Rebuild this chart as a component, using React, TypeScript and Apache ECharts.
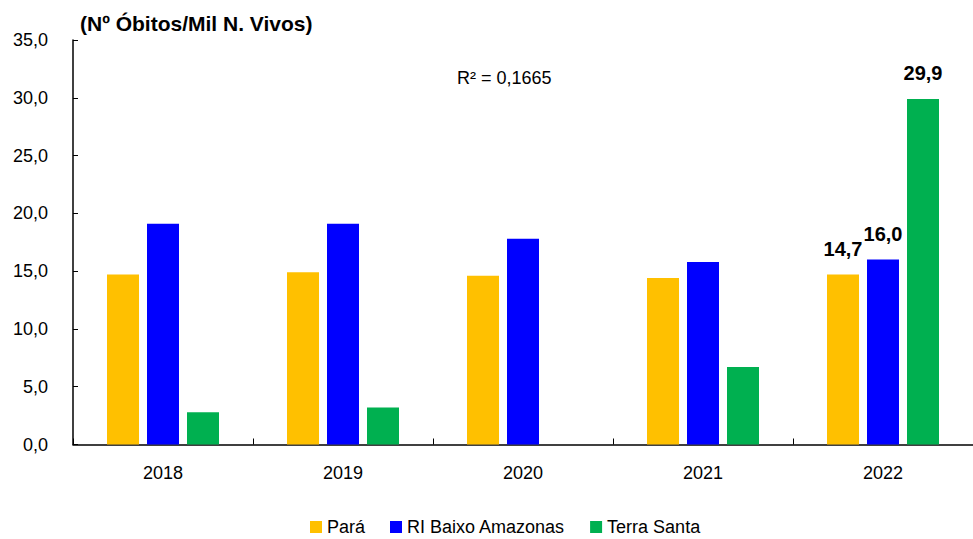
import React, { useEffect, useRef } from "react";
import * as echarts from "echarts";

const categories = ["2018", "2019", "2020", "2021", "2022"];
const para = [14.7, 14.9, 14.6, 14.4, 14.7];
const riBaixoAmazonas = [19.1, 19.1, 17.8, 15.8, 16.0];
const terraSanta = [2.8, 3.2, 0, 6.7, 29.9];
const labeledIndex = 4;
const yTicks = [0, 5, 10, 15, 20, 25, 30, 35];

const FONT = "'Liberation Sans', Arial, sans-serif";
const fmt = (v: number) => v.toFixed(1).replace(".", ",");

function withLabels(values: number[]) {
  return values.map((v, i) =>
    i === labeledIndex
      ? {
          value: v,
          label: {
            show: true,
            position: "top",
            distance: 16,
            fontFamily: FONT,
            fontWeight: "bold",
            fontSize: 20,
            color: "#000",
            formatter: (p: any) => fmt(p.value),
          },
        }
      : v
  );
}

export default function App() {
  const ref = useRef<HTMLDivElement>(null);
  useEffect(() => {
    if (!ref.current) return;
    const chart = echarts.init(ref.current, undefined, { renderer: "svg" });
    chart.setOption({
      animation: false,
      textStyle: { fontFamily: FONT },
      grid: { left: 73, right: 0, top: 40, bottom: 94.5, containLabel: false },
      legend: {
        top: 513,
        left: 305,
        padding: 5,
        itemWidth: 12,
        itemHeight: 12,
        itemGap: 25,
        icon: "rect",
        textStyle: { fontFamily: FONT, fontSize: 18, color: "#000" },
        data: ["Pará", "RI Baixo Amazonas", "Terra Santa"],
      },
      graphic: [
        {
          type: "text",
          left: 80,
          top: 13,
          style: {
            text: "(Nº Óbitos/Mil N. Vivos)",
            fontFamily: FONT,
            fontWeight: "bold",
            fontSize: 21,
            fill: "#000",
          },
        },
        {
          type: "text",
          left: 457,
          top: 69,
          style: {
            text: "R² = 0,1665",
            fontFamily: FONT,
            fontSize: 18,
            fill: "#000",
          },
        },
      ],
      xAxis: {
        type: "category",
        data: categories,
        boundaryGap: true,
        axisLine: { lineStyle: { color: "#000", width: 1.5 } },
        axisTick: { show: true, inside: true, length: 6, alignWithLabel: false, lineStyle: { color: "#000" } },
        axisLabel: { fontFamily: FONT, fontSize: 18, color: "#000", margin: 19 },
      },
      yAxis: {
        type: "value",
        min: yTicks[0],
        max: yTicks[yTicks.length - 1],
        interval: 5,
        axisLine: { show: true, lineStyle: { color: "#000", width: 1.5 } },
        axisTick: { show: true, inside: true, length: 5, lineStyle: { color: "#000" } },
        splitLine: { show: false },
        axisLabel: { fontFamily: FONT, fontSize: 18, color: "#000", margin: 25, formatter: (v: number) => fmt(v) },
      },
      series: [
        {
          name: "Pará",
          type: "bar",
          data: withLabels(para),
          barWidth: 32,
          barGap: "25%",
          itemStyle: { color: "#FFC000" },
        },
        {
          name: "RI Baixo Amazonas",
          type: "bar",
          data: withLabels(riBaixoAmazonas),
          barWidth: 32,
          barGap: "25%",
          itemStyle: { color: "#0000FF" },
        },
        {
          name: "Terra Santa",
          type: "bar",
          data: withLabels(terraSanta),
          barWidth: 32,
          barGap: "25%",
          itemStyle: { color: "#00B050" },
        },
      ],
    });
    return () => chart.dispose();
  }, []);
  return <div ref={ref} style={{ width: 973, height: 539, position: "absolute", left: 0, top: 0 }} />;
}
